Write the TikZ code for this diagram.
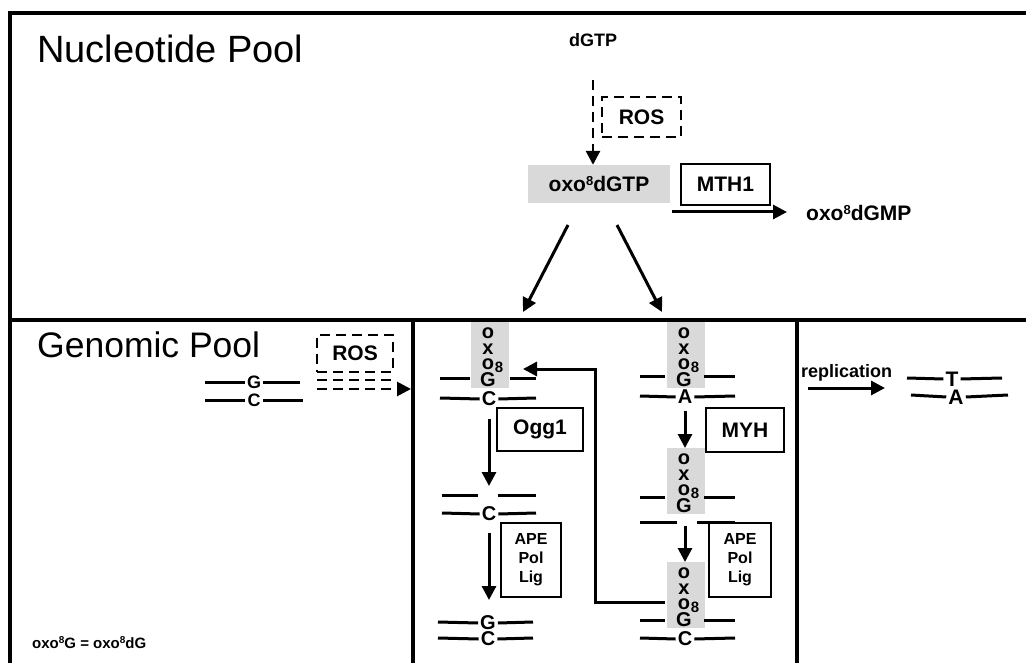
\documentclass[tikz,border=0pt]{standalone}
\usepackage{fontspec}
\setmainfont{Liberation Sans}
\usetikzlibrary{arrows.meta}
\newcommand{\fsz}[1]{\fontsize{#1}{#1}\selectfont\bfseries}
\newcommand{\esup}[2]{\raisebox{#2}{\fontsize{#1}{#1}\selectfont 8}}
\begin{document}
\begin{tikzpicture}[x=1pt,y=-1pt,
  framel/.style={line width=3.4pt},
  strand/.style={line width=3pt},
  arr/.style={line width=3pt,-{Triangle[length=14pt,width=14pt]}},
  dsh/.style={line width=2.8pt,dash pattern=on 10pt off 6pt},
  dsharr/.style={dsh,-{Triangle[length=14pt,width=14pt]}},
  ebox/.style={draw,line width=2.8pt,inner sep=0pt,font=\fsz{21}},
  dbox/.style={ebox,dsh},
  apebox/.style={draw,line width=2.8pt,inner sep=0pt,font=\fontsize{16}{19}\selectfont\bfseries,align=center,minimum width=60pt,minimum height=74pt},
  lbl/.style={inner sep=0pt,font=\fsz{#1}},
  lbl/.default=20,
  stk/.style={inner ysep=0pt,inner xsep=2pt,font=\fsz{20}},
  oxog/.pic={
    \fill[black!15] (-17,0) rectangle (21,66);
    \node[stk] (-o1) at (0,11) {o};
    \node[stk] (-x) at (0,27) {x};
    \node[stk] (-o2) at (0,42) {o};
    \node[stk] (-g) at (0,58) {G};
    \node[lbl=15] (-eight) at (11,45) {8};
  }
]
\useasboundingbox (0,0) rectangle (1026,663);
\fill[white] (0,0) rectangle (1026,663);
% frame
\draw[framel] (10,663) -- (10,13) -- (1026,13);
\draw[framel] (10,320) -- (1026,320);
\draw[framel] (413,320) -- (413,663);
\draw[framel] (797,320) -- (797,663);

% titles
\node[anchor=base west,inner sep=0pt,font=\fontsize{38}{38}\selectfont] (np) at (37,63) {Nucleotide Pool};
\node[anchor=base west,inner sep=0pt,font=\fontsize{35.5}{35.5}\selectfont] (gp) at (37,357) {Genomic Pool};

% nucleotide pool
\node[lbl=18,anchor=base] (dgtp) at (593,47) {dGTP};
\node[dbox,minimum width=79pt,minimum height=40pt] (ros1) at (641.5,117) {ROS};
\node[fill=black!15,minimum width=142pt,minimum height=38pt,inner sep=0pt,font=\fsz{21}] (gtp) at (599,184) {oxo\esup{13}{6pt}dGTP};
\node[ebox,minimum width=89pt,minimum height=41pt] (mth1) at (725.5,184.5) {MTH1};
\node[lbl=21,anchor=west] (gmp) at (806,213) {oxo\esup{13}{6pt}dGMP};
\coordinate (d0) at (593,80);
\draw[dsharr] (d0) -- (d0 |- gtp.north);
\coordinate (m0) at (672,212);
\coordinate (m1) at (787,212);
\draw[arr] (m0) -- (m1);
\coordinate (a1) at (568,225);
\coordinate (a2) at (523,312);
\coordinate (a3) at (617,225);
\coordinate (a4) at (662,312);
\draw[arr] (a1) -- (a2);
\draw[arr] (a3) -- (a4);

% genomic pool: left
\node[dbox,minimum width=76pt,minimum height=37pt] (ros2) at (355,353.5) {ROS};
\draw[dsh] (317,380) -- (393,380);
\coordinate (r0) at (317,389);
\coordinate (r1) at (411,389);
\draw[dsharr] (r0) -- (r1);
\node[stk,font=\fsz{18}] (g0) at (254,382) {G};
\node[stk,font=\fsz{18}] (c0) at (254,400) {C};
\draw[strand] (205,382) -- (g0.west); \draw[strand] (g0.east) -- (300,382);
\draw[strand] (205,400) -- (c0.west); \draw[strand] (c0.east) -- (303,400);

% middle, left column (Ogg1)
\pic (L1) at (488,322) {oxog};
\draw[strand] (440,378) -- (470,378); \draw[strand] (510,378) -- (536,378);
\node[stk] (lc1) at (489,399) {C};
\draw[strand] (440,398) -- (lc1.west); \draw[strand] (lc1.east) -- (536,398);
\node[ebox,minimum width=86pt,minimum height=43pt] (ogg) at (540,429.5) {Ogg1};
\coordinate (l1a) at (489,419);
\coordinate (l1b) at (489,486);
\draw[arr] (l1a) -- (l1b);
\draw[strand] (442,495) -- (478,495); \draw[strand] (498,495) -- (536,495);
\node[stk] (lc2) at (489,514) {C};
\draw[strand] (442,513) -- (lc2.west); \draw[strand] (lc2.east) -- (536,513);
\node[apebox] (ape1) at (531,560) {APE\\Pol\\Lig};
\coordinate (l2a) at (489,533);
\coordinate (l2b) at (489,600);
\draw[arr] (l2a) -- (l2b);
\node[stk] (lg3) at (488,623) {G};
\node[stk] (lc3) at (488,639) {C};
\draw[strand] (438,622) -- (lg3.west); \draw[strand] (lg3.east) -- (533,622);
\draw[strand] (438,638) -- (lc3.west); \draw[strand] (lc3.east) -- (533,638);

% middle, right column (MYH)
\pic (R1) at (684,322) {oxog};
\draw[strand] (640,376) -- (665,376); \draw[strand] (704,376) -- (735,376);
\node[stk] (ra1) at (685,397) {A};
\draw[strand] (640,396) -- (ra1.west); \draw[strand] (ra1.east) -- (735,396);
\node[ebox,minimum width=78pt,minimum height=44pt] (myh) at (745,430) {MYH};
\coordinate (r1a) at (685,411);
\coordinate (r1b) at (685,448);
\draw[arr] (r1a) -- (r1b);
\pic (R2) at (684,448) {oxog};
\draw[strand] (640,497) -- (665,497); \draw[strand] (704,497) -- (735,497);
\draw[strand] (640,522) -- (677,522); \draw[strand] (697,522) -- (735,522);
\node[apebox,minimum width=62pt] (ape2) at (740,560) {APE\\Pol\\Lig};
\coordinate (r2a) at (685,526);
\coordinate (r2b) at (685,562);
\draw[arr] (r2a) -- (r2b);
\pic (R3) at (684,562) {oxog};
\draw[strand] (640,620) -- (665,620); \draw[strand] (704,620) -- (735,620);
\node[stk] (rc3) at (685,639) {C};
\draw[strand] (640,638) -- (rc3.west); \draw[strand] (rc3.east) -- (735,638);
% feedback arrow
\coordinate (f0) at (665,602);
\coordinate (f1) at (595,602);
\coordinate (f2) at (595,369);
\coordinate (f3) at (523,369);
\draw[arr] (f0) -- (f1) -- (f2) -- (f3);

% right panel
\node[lbl=18,anchor=base west] (rep) at (801,377) {replication};
\coordinate (p0) at (808,388);
\coordinate (p1) at (885,388);
\draw[arr] (p0) -- (p1);
\node[stk,font=\fsz{21}] (t4) at (952,379) {T};
\node[stk,font=\fsz{21}] (a4b) at (956,397) {A};
\draw[strand] (907,378) -- (t4.west); \draw[strand] (t4.east) -- (1002,378);
\draw[strand] (911,395) -- (a4b.west); \draw[strand] (a4b.east) -- (1008,395);

% footnote
\node[lbl=15,anchor=base west] (fn) at (32,648) {oxo\esup{10}{4.5pt}G = oxo\esup{10}{4.5pt}dG};
\end{tikzpicture}
\end{document}
